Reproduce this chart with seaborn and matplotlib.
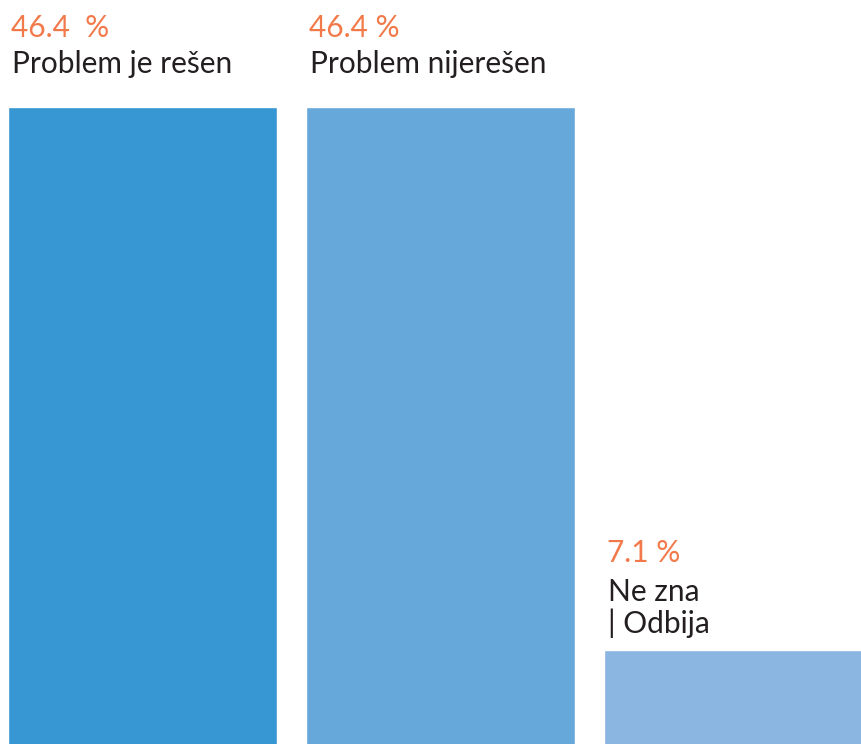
import matplotlib
matplotlib.use("Agg")
import matplotlib.pyplot as plt
import matplotlib.transforms as mtransforms
import seaborn as sns
import pandas as pd

# Survey answers and their shares (%)
categories = ["Problem je rešen", "Problem nijerešen", "Ne zna\n| Odbija"]
values = [46.4, 46.4, 7.1]
value_labels = ["46.4  %", "46.4 %", "7.1 %"]

# Styling
bar_colors = ["#3797d3", "#66a8da", "#8bb6e1"]
value_color = "#f27a4a"
text_color = "#231f20"
label_pad_px = [34, 34, 17]   # gap between last text line and bar top
line_px = 36                  # distance between value line and category line

sns.set_theme(style="white")
plt.rcParams["font.family"] = ["Lato", "DejaVu Sans"]

df = pd.DataFrame({"category": categories, "value": values})

fig = plt.figure(figsize=(8.62, 7.44), dpi=100)
ax = fig.add_axes([0, 0, 1, 1])
sns.barplot(data=df, x="category", y="value", hue="category",
            palette=bar_colors, width=0.903, saturation=1,
            legend=False, ax=ax)

ax.set_xlim(-0.478, 2.414)
ax.set_ylim(0.297, 54.14)
ax.axis("off")

dpi = fig.dpi
for i, (cat, val, vlab) in enumerate(zip(categories, values, value_labels)):
    left = i - 0.903 / 2
    n_lines = cat.count("\n") + 1
    pad = label_pad_px[i]
    # category text, last line baseline 'pad' px above bar top
    tr = ax.transData + mtransforms.ScaledTranslation(4 / dpi, pad / dpi, fig.dpi_scale_trans)
    ax.text(left, val, cat, transform=tr, ha="left", va="baseline",
            fontsize=21.5, color=text_color, linespacing=1.12)
    # value text above the category block
    off = pad + n_lines * line_px - (n_lines - 1) * 1
    tr2 = ax.transData + mtransforms.ScaledTranslation(3 / dpi, off / dpi, fig.dpi_scale_trans)
    ax.text(left, val, vlab, transform=tr2, ha="left", va="baseline",
            fontsize=21.5, color=value_color)

fig.savefig("out.png", dpi=100)
